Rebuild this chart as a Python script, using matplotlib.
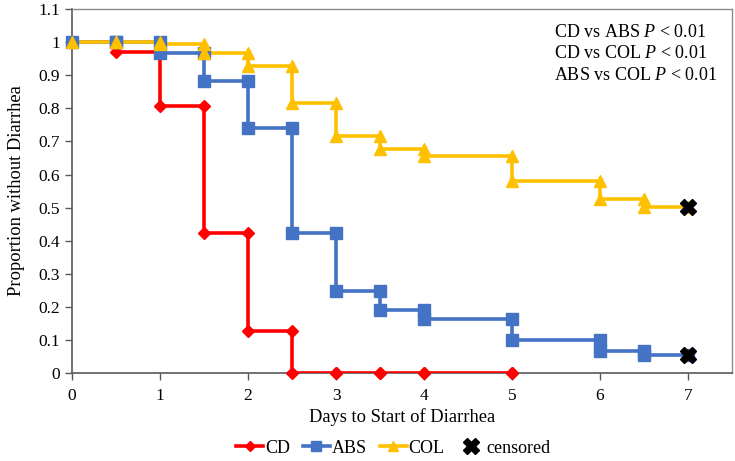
import numpy as np
import matplotlib
matplotlib.use("Agg")
import matplotlib.pyplot as plt
from matplotlib.lines import Line2D

# Kaplan-Meier style curves: time of step and proportion after the step
cd_days = [0, 0.5, 1, 1.5, 2, 2.5, 3, 3.5, 4, 5]
cd_surv = [1, 0.97, 0.807, 0.422, 0.126, 0, 0, 0, 0, 0]

abs_days = [0, 0.5, 1, 1.5, 2, 2.5, 3, 3.5, 4, 5, 6, 6.5, 7]
abs_surv = [1, 1, 0.967, 0.883, 0.74, 0.422, 0.248, 0.19, 0.164, 0.1, 0.065, 0.053, 0.053]

col_days = [0, 0.5, 1, 1.5, 2, 2.5, 3, 3.5, 4, 5, 6, 6.5, 7]
col_surv = [1, 1, 0.996, 0.967, 0.928, 0.815, 0.718, 0.676, 0.655, 0.58, 0.525, 0.501, 0.501]

censored_days = [7, 7]
censored_surv = [0.053, 0.501]

p_text = ["CD vs ABS $P$ < 0.01", "CD vs COL $P$ < 0.01", "ABS vs COL $P$ < 0.01"]

plt.rcParams['font.family'] = ['Liberation Serif', 'DejaVu Serif']
plt.rcParams['mathtext.fontset'] = 'custom'
plt.rcParams['mathtext.rm'] = 'Liberation Serif'
plt.rcParams['mathtext.it'] = 'Liberation Serif:italic'


def step_points(days, surv):
    # corner points of a post-step curve (Excel style: marker at every corner)
    xs, ys = [days[0]], [surv[0]]
    for i in range(1, len(days)):
        xs += [days[i], days[i]]
        ys += [surv[i - 1], surv[i]]
    return np.array(xs), np.array(ys)


fig = plt.figure(figsize=(7.35, 4.61), dpi=100)
ax = fig.add_axes([0.098, 0.191, 0.898, 0.789])

series = [
    (cd_days, cd_surv, "#FF0000", "D", 6.5, "CD", False),
    (abs_days, abs_surv, "#4472C4", "s", 8, "ABS", True),
    (col_days, col_surv, "#FFC000", "^", 8.5, "COL", True),
]
handles = []
for days, surv, color, marker, ms, name, cens in series:
    xs, ys = step_points(days, surv)
    ax.plot(xs, ys, color=color, lw=2.6, zorder=3)
    # markers on corners; the last corner of a censored curve gets the X instead
    mx, my = (xs[:-1], ys[:-1]) if cens else (xs, ys)
    ax.plot(mx, my, ls="none", marker=marker, ms=ms, color=color,
            clip_on=False, zorder=4)
    handles.append(Line2D([], [], color=color, lw=2.6, marker=marker, ms=ms - 1.5))

ax.plot(censored_days, censored_surv, ls="none", marker="X", ms=11,
        color="black", mec="black", zorder=5, clip_on=False)
handles.append(Line2D([], [], ls="none", marker="X", ms=11, color="black"))

for i, t in enumerate(p_text):
    ax.text(0.73, 0.935 - i * 0.058, t, transform=ax.transAxes, fontsize=13,
            ha="left", va="center")

ax.set_xlim(0, 7.5)
ax.set_ylim(0, 1.1)
ax.set_xticks(range(0, 8))
ax.set_yticks(np.arange(0, 1.11, 0.1))
ax.set_yticklabels(["0", "0.1", "0.2", "0.3", "0.4", "0.5", "0.6", "0.7",
                    "0.8", "0.9", "1", "1.1"])
ax.tick_params(axis="both", labelsize=12.5, direction="out", length=5,
               width=1, color="#595959")
ax.tick_params(axis="x", pad=6)

for side in ["left", "bottom"]:
    ax.spines[side].set_color("#595959")
    ax.spines[side].set_linewidth(1.2)
for side in ["top", "right"]:
    ax.spines[side].set_color("#8c8c8c")
    ax.spines[side].set_linewidth(1)

ax.set_xlabel("Days to Start of Diarrhea", fontsize=13.3, labelpad=3)
ax.set_ylabel("Proportion without Diarrhea", fontsize=13.3, labelpad=10)

fig.legend(handles, ["CD", "ABS", "COL", "censored"], loc="center",
           bbox_to_anchor=(0.535, 0.028), ncol=4, frameon=False, fontsize=13,
           handlelength=1.5, handletextpad=0.1, columnspacing=0.7)

fig.savefig("out.png", dpi=100)
